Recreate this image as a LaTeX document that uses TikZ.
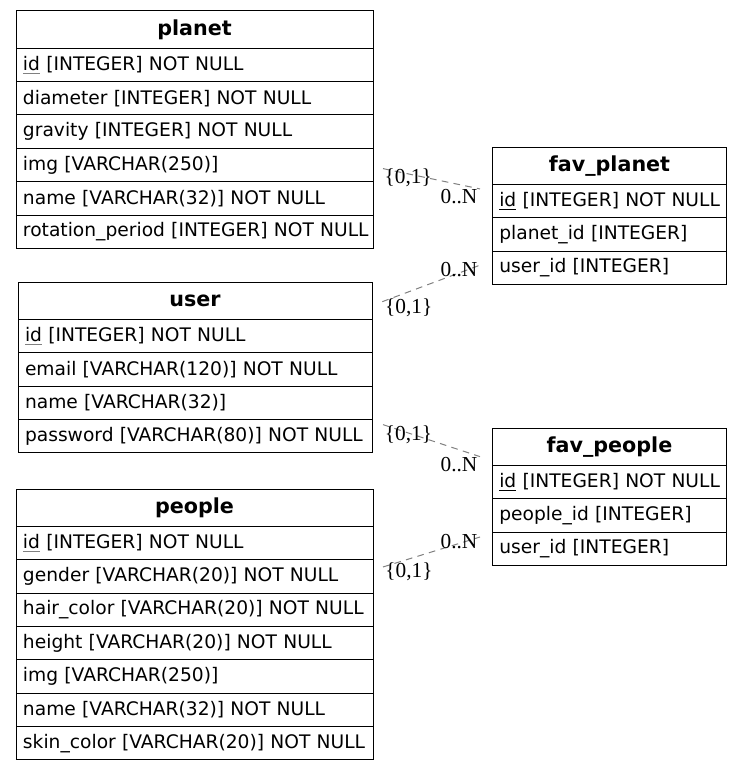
\documentclass[tikz,border=0pt]{standalone}
\usepackage{fontspec}
\setmainfont{DejaVu Sans}
\newfontfamily\cardfont{Liberation Serif}
\usetikzlibrary{positioning,calc}
\newcommand{\pk}[2][black]{\setbox0\hbox{#2}\rlap{\color{#1}\rule[-2.4pt]{\wd0}{0.75pt}}\box0\relax}
\tikzset{hdr/.style={draw,line width=0.75pt,minimum width=#1,minimum height=28pt,inner sep=0pt,outer sep=0pt,
    font=\fontsize{15.5}{18}\selectfont\bfseries},
  fld/.style={draw,line width=0.75pt,text width=#1,minimum height=25pt,inner sep=0pt,outer sep=0pt,align=left,
    font=\fontsize{14}{17}\selectfont,execute at begin node={\hspace*{5.25pt}}},
  conn/.style={draw=gray,line width=0.75pt,dash pattern=on 5pt off 4pt},
  card/.style={font=\cardfont\fontsize{16}{16}\selectfont,inner sep=0pt}}

\begin{document}
\begin{tikzpicture}[x=0.75pt,y=-0.75pt]
\useasboundingbox (0,0) rectangle (743,770);
% tables
\node[hdr=267.75pt,anchor=north west] (planet-0) at (16,11) {planet};
\foreach \txt [count=\i,remember=\i as \j (initially 0)] in {\pk[gray]{id} [INTEGER] NOT NULL,
    diameter [INTEGER] NOT NULL,gravity [INTEGER] NOT NULL,img [VARCHAR(250)],
    name [VARCHAR(32)] NOT NULL,rotation\_period [INTEGER] NOT NULL}
  \node[fld=267.75pt,below=0pt of planet-\j] (planet-\i) {\txt};

\node[hdr=265.5pt,anchor=north west] (user-0) at (18,282.3) {user};
\foreach \txt [count=\i,remember=\i as \j (initially 0)] in {\pk[gray]{id} [INTEGER] NOT NULL,
    email [VARCHAR(120)] NOT NULL,name [VARCHAR(32)],password [VARCHAR(80)] NOT NULL}
  \node[fld=265.5pt,below=0pt of user-\j] (user-\i) {\txt};

\node[hdr=267.75pt,anchor=north west] (people-0) at (16,489.3) {people};
\foreach \txt [count=\i,remember=\i as \j (initially 0)] in {\pk[gray]{id} [INTEGER] NOT NULL,
    gender [VARCHAR(20)] NOT NULL,hair\_color [VARCHAR(20)] NOT NULL,height [VARCHAR(20)] NOT NULL,
    img [VARCHAR(250)],name [VARCHAR(32)] NOT NULL,skin\_color [VARCHAR(20)] NOT NULL}
  \node[fld=267.75pt,below=0pt of people-\j] (people-\i) {\txt};

\node[hdr=175.8pt,anchor=north west] (fplanet-0) at (492.3,147.3) {fav\_planet};
\foreach \txt [count=\i,remember=\i as \j (initially 0)] in {\pk{id} [INTEGER] NOT NULL,
    planet\_id [INTEGER],user\_id [INTEGER]}
  \node[fld=175.8pt,below=0pt of fplanet-\j] (fplanet-\i) {\txt};

\node[hdr=175.8pt,anchor=north west] (fpeople-0) at (492.3,428.3) {fav\_people};
\foreach \txt [count=\i,remember=\i as \j (initially 0)] in {\pk{id} [INTEGER] NOT NULL,
    people\_id [INTEGER],user\_id [INTEGER]}
  \node[fld=175.8pt,below=0pt of fpeople-\j] (fpeople-\i) {\txt};

% connector ends
\coordinate (pl-out) at ($(planet-4.east)+(10,3.6)$);
\coordinate (fpl-in1) at ($(fplanet-0.south west)+(-12.3,4.3)$);
\coordinate (us-out1) at ($(user-0.east)+(10.3,0.7)$);
\coordinate (fpl-in2) at ($(fplanet-3.west)+(-11.3,-3.2)$);
\coordinate (us-out2) at ($(user-3.south east)+(11,5)$);
\coordinate (fpe-in1) at ($(fpeople-0.south west)+(-12.3,-9)$);
\coordinate (pe-out) at ($(people-2.north east)+(10,7)$);
\coordinate (fpe-in2) at ($(fpeople-3.north west)+(-12.3,4.7)$);

% relations
\draw[conn] (pl-out) -- (fpl-in1);
\node[card] (c1a) at ($(pl-out)+(25.2,8.7)$) {\{0,1\}};
\node[card] (c1b) at ($(fpl-in1)+(-21,7.7)$) {0..N};
\draw[conn] (us-out1) -- (fpl-in2);
\node[card] (c2a) at ($(us-out1)+(26.5,6.3)$) {\{0,1\}};
\node[card] (c2b) at ($(fpl-in2)+(-22,5.2)$) {0..N};
\draw[conn] (us-out2) -- (fpe-in1);
\node[card] (c3a) at ($(us-out2)+(25.5,10.4)$) {\{0,1\}};
\node[card] (c3b) at ($(fpe-in1)+(-21,8.4)$) {0..N};
\draw[conn] (pe-out) -- (fpe-in2);
\node[card] (c4a) at ($(pe-out)+(26,5)$) {\{0,1\}};
\node[card] (c4b) at ($(fpe-in2)+(-21,5)$) {0..N};
\end{tikzpicture}
\end{document}
